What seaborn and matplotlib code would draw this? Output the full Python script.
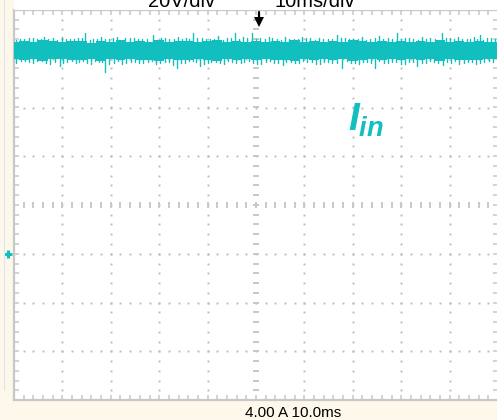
import numpy as np
import pandas as pd
import matplotlib
matplotlib.use("Agg")
import matplotlib.pyplot as plt
import matplotlib.transforms as mtransforms
from matplotlib.lines import Line2D
from matplotlib.patches import Rectangle
import seaborn as sns

# ---------------- data ----------------
time_per_div_ms = 10.0
amps_per_div = 4.0
n_xdiv, n_ydiv = 10, 8
ground_div = -1          # ground marker sits one division below centre

core_t = [0, 2, 4, 6, 8, 10, 12, 14, 16, 18, 20, 22, 24, 26, 28, 30, 32, 34, 36, 38,
          40, 42, 44, 46, 48, 50, 52, 54, 56, 58, 60, 62, 64, 66, 68, 70, 72, 74, 76, 78,
          80, 82, 84, 86, 88, 90, 92, 94, 96, 98, 100]
core_hi = [17.40, 17.46, 17.35, 17.50, 17.42, 17.37, 17.49, 17.44, 17.33, 17.46,
           17.40, 17.52, 17.36, 17.45, 17.39, 17.50, 17.35, 17.43, 17.48, 17.38,
           17.42, 17.53, 17.37, 17.45, 17.40, 17.49, 17.34, 17.47, 17.41, 17.51,
           17.36, 17.44, 17.39, 17.48, 17.34, 17.50, 17.42, 17.38, 17.46, 17.40,
           17.49, 17.35, 17.45, 17.39, 17.52, 17.37, 17.44, 17.41, 17.47, 17.39, 17.39]
core_lo = [15.96, 15.88, 16.01, 15.84, 15.94, 15.98, 15.86, 15.92, 16.00, 15.83,
           15.95, 15.89, 15.99, 15.87, 15.93, 15.85, 15.97, 15.91, 15.88, 15.98,
           15.92, 15.82, 15.96, 15.90, 15.94, 15.86, 16.00, 15.89, 15.93, 15.84,
           15.97, 15.91, 15.95, 15.87, 15.99, 15.85, 15.92, 15.96, 15.88, 15.94,
           15.86, 15.98, 15.90, 15.95, 15.83, 15.97, 15.91, 15.93, 15.87, 15.95, 15.95]

# larger upward spikes
up_t = [1.2, 3.0, 4.8, 6.1, 8.0, 9.9, 11.5, 13.2, 14.7, 16.4, 18.0, 19.6, 21.3, 23.0,
        24.8, 26.5, 28.7, 30.4, 32.1, 33.9, 35.5, 37.0, 38.8, 40.5, 42.2, 44.0, 45.7,
        47.3, 49.2, 50.9, 52.6, 54.3, 56.0, 57.8, 59.5, 61.2, 63.0, 64.8, 66.7, 68.4,
        70.1, 71.9, 73.6, 75.4, 77.2, 79.1, 80.8, 82.5, 84.3, 86.0, 88.4, 90.1, 91.8,
        93.5, 95.0, 96.3, 97.8]
up_v = [17.65, 17.72, 17.60, 17.80, 17.68, 17.76, 17.62, 17.70, 18.08, 17.65, 17.78,
        17.60, 17.82, 17.67, 17.74, 17.62, 17.98, 17.70, 17.65, 17.80, 17.68, 18.08,
        17.72, 17.60, 17.85, 17.68, 18.08, 17.75, 18.08, 17.70, 17.82, 17.65, 17.76,
        17.62, 17.80, 17.68, 17.72, 17.65, 17.92, 17.70, 17.62, 17.78, 17.66, 17.84,
        17.68, 18.08, 17.72, 17.65, 17.80, 17.68, 18.08, 17.70, 17.76, 17.65, 17.82,
        17.92, 17.70]
# smaller upward fuzz between them
up2_t = [0.4, 2.1, 3.9, 5.5, 7.0, 8.9, 10.7, 12.4, 14.0, 15.6, 17.2, 18.8, 20.5, 22.1,
         23.9, 25.6, 27.5, 29.5, 31.2, 33.0, 34.7, 36.2, 37.9, 39.6, 41.3, 43.1, 44.8,
         46.5, 48.2, 50.0, 51.8, 53.4, 55.1, 56.9, 58.6, 60.3, 62.1, 63.9, 65.8, 67.5,
         69.2, 71.0, 72.7, 74.5, 76.3, 78.1, 79.9, 81.6, 83.4, 85.1, 87.0, 89.2, 91.0,
         92.6, 94.3, 95.7, 97.0, 98.5, 99.3]
up2_v = [17.56, 17.62, 17.70, 17.58, 17.66, 17.54, 17.64, 17.60, 17.68, 17.56, 17.64,
         17.59, 17.67, 17.54, 17.72, 17.59, 17.64, 17.56, 17.70, 17.60, 17.66, 17.58,
         17.74, 17.60, 17.64, 17.56, 17.70, 17.62, 17.74, 17.66, 17.59, 17.68, 17.56,
         17.64, 17.60, 17.70, 17.56, 17.66, 17.60, 17.68, 17.58, 17.64, 17.56, 17.70,
         17.60, 17.66, 17.59, 17.68, 17.56, 17.64, 17.60, 17.70, 17.58, 17.66, 17.60,
         17.64, 17.56, 17.68, 17.60]

# larger downward spikes
dn_t = [0.5, 2.3, 4.0, 5.7, 7.5, 9.5, 11.0, 12.8, 14.2, 16.0, 17.5, 18.8, 20.6, 22.3,
        24.1, 25.9, 27.6, 29.4, 31.1, 32.8, 33.7, 35.3, 36.9, 38.4, 40.0, 41.7, 43.4,
        45.1, 46.8, 48.5, 50.3, 52.0, 53.7, 55.5, 57.2, 58.9, 60.6, 62.4, 64.1, 65.8,
        67.8, 69.6, 71.3, 73.0, 74.6, 76.4, 78.1, 79.9, 81.6, 83.3, 85.1, 86.8, 88.6,
        90.3, 92.0, 93.8, 95.5, 97.2]
dn_v = [15.68, 15.78, 15.62, 15.80, 15.58, 15.40, 15.72, 15.64, 15.78, 15.60, 15.72,
        14.95, 15.68, 15.55, 15.76, 15.62, 15.70, 15.58, 15.74, 15.52, 15.28, 15.66,
        15.78, 15.42, 15.62, 15.74, 15.56, 15.70, 15.62, 15.78, 15.58, 15.72, 15.64,
        15.52, 15.76, 15.62, 15.70, 15.56, 15.74, 15.62, 15.22, 15.68, 15.54, 15.72,
        15.28, 15.64, 15.76, 15.58, 15.70, 15.42, 15.62, 15.74, 15.52, 15.68, 15.60,
        15.76, 15.54, 15.70]
# smaller downward fuzz between them
dn2_t = [1.4, 3.1, 4.8, 6.6, 8.5, 10.2, 11.9, 13.5, 15.1, 16.8, 18.1, 19.7, 21.4, 23.2,
         25.0, 26.7, 28.5, 30.2, 32.0, 34.5, 36.1, 37.6, 39.2, 40.8, 42.5, 44.2, 45.9,
         47.6, 49.4, 51.1, 52.8, 54.6, 56.3, 58.0, 59.7, 61.5, 63.2, 64.9, 66.8, 68.7,
         70.4, 72.1, 73.8, 75.5, 77.2, 79.0, 80.7, 82.4, 84.2, 85.9, 87.7, 89.4, 91.1,
         92.9, 94.6, 96.3, 98.1, 99.0]
dn2_v = [15.78, 15.70, 15.82, 15.68, 15.76, 15.64, 15.80, 15.72, 15.66, 15.82, 15.70,
         15.60, 15.78, 15.68, 15.74, 15.62, 15.80, 15.68, 15.76, 15.64, 15.78, 15.70,
         15.58, 15.76, 15.68, 15.80, 15.64, 15.74, 15.68, 15.60, 15.78, 15.68, 15.74,
         15.64, 15.80, 15.70, 15.58, 15.76, 15.66, 15.78, 15.68, 15.74, 15.62, 15.80,
         15.68, 15.76, 15.60, 15.74, 15.68, 15.78, 15.64, 15.72, 15.80, 15.66, 15.74,
         15.68, 15.78, 15.70]

top_left_label = "20V/div"
top_right_label = "10ms/div"
bottom_label = "4.00 A 10.0ms"
trace_label = r"$I_{in}$"

# ---------------- style ----------------
TEAL = "#12bfbf"
GRID = "#bdbdbd"
FRAME = "#c8c8c8"
CREAM = "#fdf8ea"

sns.set_theme(style="white")
plt.rcParams["font.family"] = ["Liberation Sans", "DejaVu Sans"]
plt.rcParams["mathtext.fontset"] = "custom"
plt.rcParams["mathtext.it"] = "Liberation Sans:italic:bold"
plt.rcParams["mathtext.rm"] = "Liberation Sans"

W, H = 497, 420
fig = plt.figure(figsize=(W / 100, H / 100), dpi=100, facecolor=CREAM)
fig.patches.append(Rectangle((14 / W, 410 / H), 1 - 14 / W, 10 / H,
                             transform=fig.transFigure, facecolor="white",
                             edgecolor="none", zorder=0))
fig.lines.append(Line2D([3.5 / W, 3.5 / W], [30 / H, 1], transform=fig.transFigure,
                        color="#dde5ee", lw=0.8))

ax = fig.add_axes([14 / W, 20 / H, 484 / W, 390 / H])
ax.set_facecolor("white")

x_max = n_xdiv * time_per_div_ms
y_min = (-n_ydiv / 2 - ground_div) * amps_per_div
y_max = (n_ydiv / 2 - ground_div) * amps_per_div
ax.set_xlim(0, x_max)
ax.set_ylim(y_min, y_max)

# graticule: dotted major lines
xminor = np.arange(0, x_max + 1e-9, time_per_div_ms / 5)
yminor = np.arange(y_min, y_max + 1e-9, amps_per_div / 5)
xmajor = np.arange(0, x_max + 1e-9, time_per_div_ms)
ymajor = np.arange(y_min, y_max + 1e-9, amps_per_div)
xc = x_max / 2
yc = (y_min + y_max) / 2
for xv in xmajor[1:-1]:
    if abs(xv - xc) < 1e-6:
        continue
    ax.plot(np.full(len(yminor) - 2, xv), yminor[1:-1], ls="none", marker="s",
            ms=1.4, mew=0, color=GRID, zorder=1)
for yv in ymajor[1:-1]:
    if abs(yv - yc) < 1e-6:
        continue
    ax.plot(xminor[1:-1], np.full(len(xminor) - 2, yv), ls="none", marker="s",
            ms=1.4, mew=0, color=GRID, zorder=1)
# centre axes with dashes
ax.plot(np.full(len(yminor) - 2, xc), yminor[1:-1], ls="none", marker="_",
        ms=4.5, mew=1.4, color=FRAME, zorder=1)
ax.plot(xminor[1:-1], np.full(len(xminor) - 2, yc), ls="none", marker="|",
        ms=4.5, mew=1.4, color=FRAME, zorder=1)

# border ticks
ax.set_xticks(xminor)
ax.set_yticks(yminor)
ax.tick_params(direction="in", length=3.4, width=1.1, color=FRAME,
               top=True, right=True, bottom=True, left=True,
               labelbottom=False, labelleft=False)
for s in ax.spines.values():
    s.set_color(FRAME)
    s.set_linewidth(1.6)

# ---------------- trace ----------------
ax.fill_between(core_t, core_lo, core_hi, step="mid", color=TEAL, lw=0, zorder=3)
mid = float(np.mean([np.mean(core_hi), np.mean(core_lo)]))
rows = []
for tag, ts, vs in (("u", up_t, up_v), ("v", up2_t, up2_v),
                    ("d", dn_t, dn_v), ("e", dn2_t, dn2_v)):
    for i, (t, v) in enumerate(zip(ts, vs)):
        rows += [dict(t=t, a=mid, sid=f"{tag}{i}"), dict(t=t, a=v, sid=f"{tag}{i}")]
spikes = pd.DataFrame(rows)
sns.lineplot(data=spikes, x="t", y="a", units="sid", estimator=None, sort=False,
             color=TEAL, lw=1.0, ax=ax, zorder=3, legend=False)
ax.set_xlabel("")
ax.set_ylabel("")

ax.text(69.0, 10.1, trace_label, color=TEAL, fontsize=28, ha="left", va="baseline",
        zorder=4)

# trigger arrow at top, ground marker at left
ax.plot([50.6, 50.6], [19.85, 19.25], color="black", lw=1.6, clip_on=False, zorder=5)
ax.plot([50.6], [19.05], marker="v", ms=7, color="black", mew=0, clip_on=False, zorder=5)
trans = mtransforms.blended_transform_factory(ax.transAxes, ax.transData)
ax.plot([-0.0124], [0], marker="+", ms=6, mew=2.2, color=TEAL, transform=trans,
        clip_on=False, zorder=5)

# texts
fig.text(148 / W, 1 - 7 / H, top_left_label, fontsize=14.5, ha="left", va="baseline",
         color="black")
fig.text(355 / W, 1 - 7 / H, top_right_label, fontsize=14.5, ha="right", va="baseline",
         color="black")
fig.text(293 / W, 3 / H, bottom_label, fontsize=11, ha="center", va="baseline",
         color="black")

fig.savefig("out.png", dpi=100, facecolor=CREAM)
